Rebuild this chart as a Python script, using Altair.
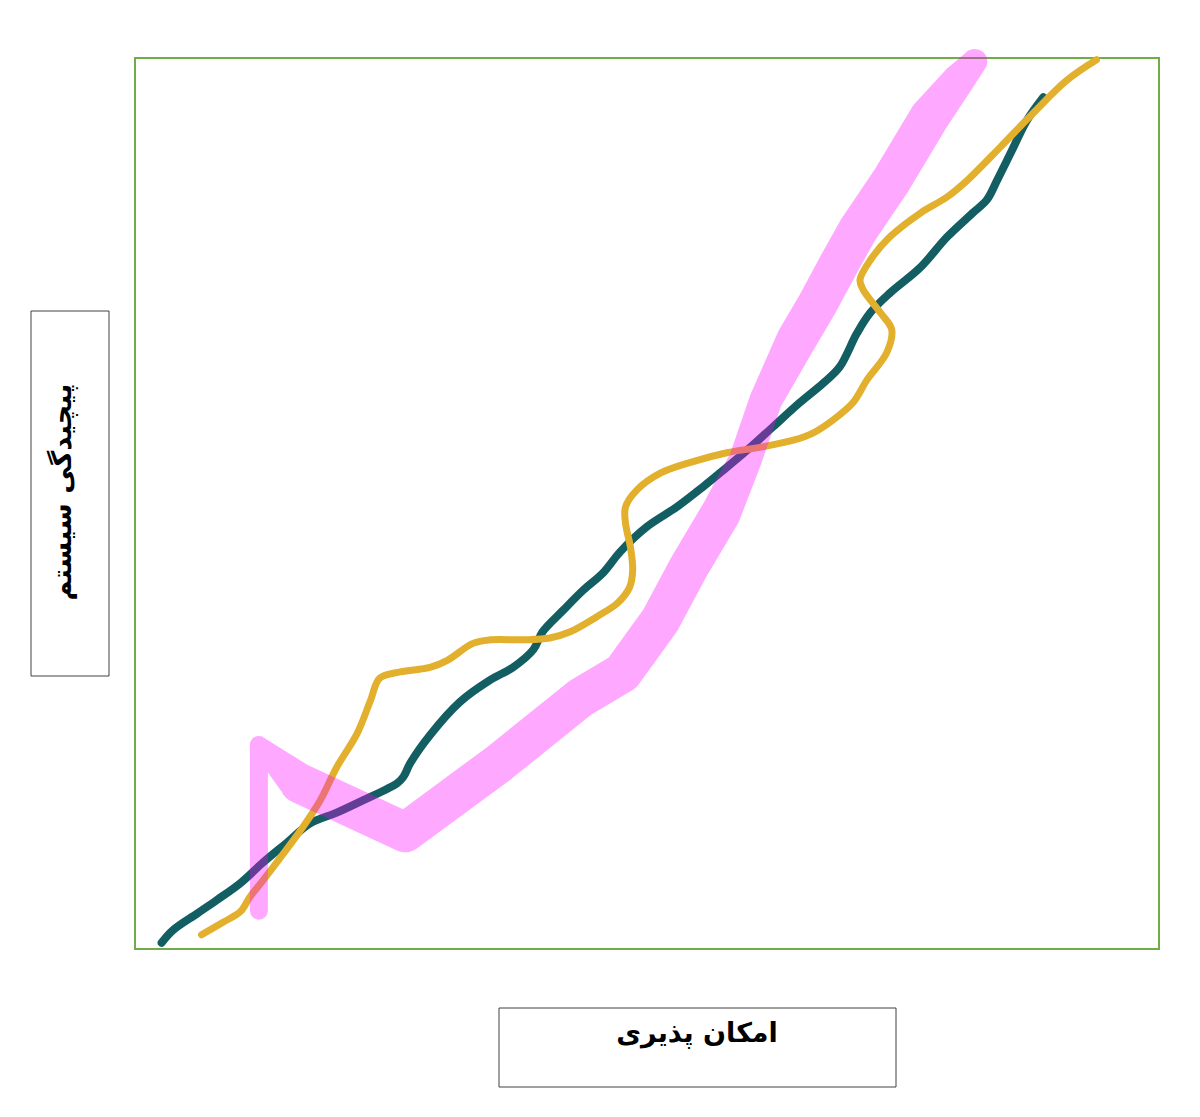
import altair as alt
import pandas as pd

# ---- data (x: 0-100, y: 0-100) ----
teal_x = [2.6, 3.7, 6.1, 8.0, 10.3, 12.5, 14.8, 17.1, 19.7, 22.3, 25.6, 26.2, 26.9, 28.8,
          31.7, 34.7, 36.9, 38.9, 39.8, 41.8, 43.8, 45.7, 47.4, 50.0, 52.9, 55.5, 57.1,
          59.8, 62.3, 64.9, 67.2, 68.8, 70.5, 71.8, 73.7, 76.7, 79.3, 81.8, 83.2, 84.2,
          85.5, 87.1, 88.7]
teal_y = [0.7, 2.1, 4.0, 5.5, 7.4, 9.7, 11.9, 14.1, 15.3, 16.7, 18.6, 19.3, 20.9, 24.0,
          27.7, 30.2, 31.6, 33.6, 35.6, 38.0, 40.3, 42.2, 44.6, 47.4, 49.6, 51.9, 53.4,
          56.0, 58.6, 61.3, 63.5, 65.3, 69.1, 71.4, 73.6, 76.5, 79.9, 82.6, 84.1, 86.3,
          89.3, 93.0, 95.6]

gold_x = [6.5, 8.6, 10.3, 11.2, 12.5, 16.4, 18.1, 19.7, 21.7, 23.0, 23.9, 25.9, 28.8,
          30.5, 33.0, 34.7, 37.9, 40.5, 42.5, 45.1, 47.1, 48.3, 48.6, 48.4, 47.9, 47.9,
          49.0, 51.3, 54.5, 57.8, 61.0, 64.3, 66.2, 68.2, 70.1, 71.5, 73.4, 73.9, 72.8,
          71.1, 70.8, 71.8, 73.7, 76.7, 79.3, 81.3, 84.5, 87.7, 91.0, 93.9]
gold_y = [1.6, 3.0, 4.2, 5.8, 7.7, 13.7, 16.7, 20.4, 24.2, 27.9, 30.4, 31.1, 31.6,
          32.4, 34.3, 34.7, 34.7, 34.9, 35.6, 37.3, 38.8, 40.6, 42.5, 45.0, 47.8, 49.6,
          51.5, 53.4, 54.7, 55.7, 56.3, 57.1, 57.9, 59.4, 61.3, 63.9, 66.9, 69.5, 71.4,
          74.0, 75.1, 77.3, 79.9, 82.6, 84.4, 86.3, 90.0, 93.8, 97.5, 99.8]

pink_x = [12.1, 12.1, 16.1, 26.4, 35.6, 43.5, 47.6, 51.3, 54.1, 57.2, 59.6, 61.6,
          64.6, 66.7, 68.8, 70.6, 73.9, 77.6, 80.4, 82.0]
pink_y = [4.3, 22.9, 18.6, 13.1, 20.9, 28.2, 31.0, 36.9, 42.9, 48.9, 54.9, 61.6,
          68.4, 72.5, 77.0, 80.7, 86.3, 93.4, 97.5, 99.6]
pink_part = ["stem", "stem", "body", "body", "body", "body", "body", "body", "body",
             "body", "neck", "neck", "body", "body", "body", "body", "body", "body",
             "neck", "tip"]

x_title = "امکان پذیری"
y_title = "پیچیدگی سیستم"

teal = pd.DataFrame({"x": teal_x, "y": teal_y, "i": list(range(len(teal_x)))})
gold = pd.DataFrame({"x": gold_x, "y": gold_y, "i": list(range(len(gold_x)))})
pink = pd.DataFrame({"x": pink_x, "y": pink_y, "part": pink_part,
                     "i": list(range(len(pink_x)))})
one = pd.DataFrame({"k": [0]})

xs = alt.Scale(domain=[0, 100], nice=False, zero=False)
ys = alt.Scale(domain=[0, 100], nice=False, zero=False)
X = alt.X("x:Q", scale=xs, axis=None)
Y = alt.Y("y:Q", scale=ys, axis=None)

teal_line = alt.Chart(teal).mark_line(
    color="#125e62", strokeWidth=8, strokeCap="round", strokeJoin="round",
    interpolate="catmull-rom"
).encode(x=X, y=Y, order="i:Q")

gold_line = alt.Chart(gold).mark_line(
    color="#e2b02c", strokeWidth=7, strokeCap="round", strokeJoin="round",
    interpolate="catmull-rom"
).encode(x=X, y=Y, order="i:Q")

# point scale: evenly spaced widths from 18 (stem) to 40 (body)
pink_trail = alt.Chart(pink).mark_trail(color="#ff00ff", opacity=0.34).encode(
    x=X, y=Y, order="i:Q",
    size=alt.Size("part:O", scale=alt.Scale(type="point",
                                            domain=["stem", "tip", "neck", "body"],
                                            range=[18, 40]), legend=None)
)

box_y = alt.Chart(one).mark_rect(fill="white", stroke="#404040", strokeWidth=1).encode(
    x=alt.value(-104), x2=alt.value(-26), y=alt.value(253), y2=alt.value(618))
text_y = alt.Chart(one).mark_text(
    text=y_title, angle=270, font="DejaVu Sans", fontSize=27, fontWeight="bold",
    color="black", align="center", baseline="middle"
).encode(x=alt.value(-72), y=alt.value(434))

box_x = alt.Chart(one).mark_rect(fill="white", stroke="#404040", strokeWidth=1).encode(
    x=alt.value(364), x2=alt.value(761), y=alt.value(950), y2=alt.value(1029))
text_x = alt.Chart(one).mark_text(
    text=x_title, font="DejaVu Sans", fontSize=27, fontWeight="bold",
    color="black", align="center", baseline="middle"
).encode(x=alt.value(562), y=alt.value(976))

chart = alt.layer(
    box_y, text_y, box_x, text_x, teal_line, gold_line, pink_trail
).properties(
    width=1024, height=891,
    autosize=alt.AutoSizeParams(type="none"),
    padding={"left": 127, "top": 50, "right": 33, "bottom": 160},
    background="white",
).configure_view(stroke="#70ad47", strokeWidth=2)

chart.save("out.html", embed_options={"renderer": "svg", "actions": False})
